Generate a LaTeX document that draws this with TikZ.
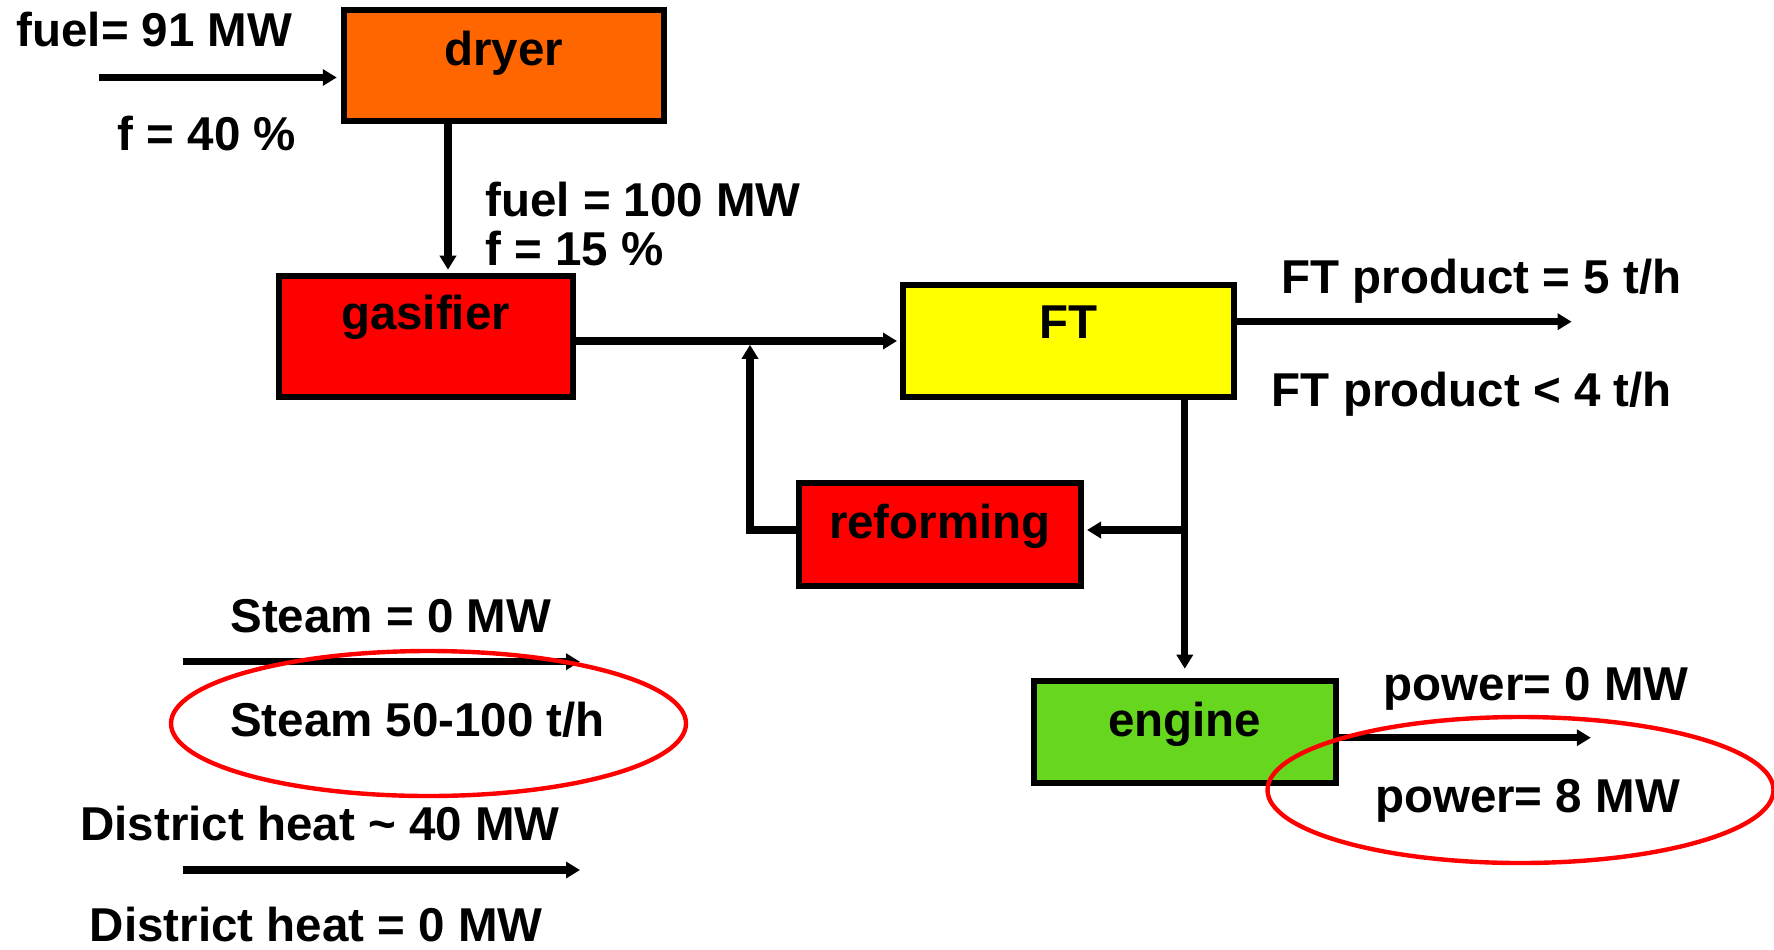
\documentclass[tikz,border=0pt]{standalone}
\usepackage{fontspec}
\setmainfont{Liberation Sans}
\usetikzlibrary{arrows.meta}
\definecolor{dryerc}{RGB}{255,102,0}
\definecolor{hotc}{RGB}{255,0,0}
\definecolor{ftc}{RGB}{255,255,0}
\definecolor{enginec}{RGB}{102,214,30}
\begin{document}
\begin{tikzpicture}[x=0.5pt,y=-0.5pt,
  every node/.style={font=\fontsize{23.75pt}{28pt}\selectfont\bfseries, inner sep=0pt},
  box/.style={draw=black, line width=3pt, inner sep=0pt},
  arr/.style={line width=3.6pt, -{Triangle[length=7pt,width=8pt]}},
  ring/.style={draw=red, line width=2.2pt},
  lbl/.style={anchor=base}]
\useasboundingbox (0,0) rectangle (1774,949);
% boxes
\node[box, fill=dryerc, minimum width=160.15pt, minimum height=55.35pt, text height=0pt, text depth=0pt] (dryer) at (503.9,65.65) {dryer};
\node[box, fill=hotc, minimum width=147.1pt, minimum height=60.65pt, text height=0pt, text depth=6.4pt] (gasifier) at (425.6,336.35) {gasifier};
\node[box, fill=ftc, minimum width=165.25pt, minimum height=55.85pt, text height=0pt, text depth=2.2pt] (FT) at (1068.25,341.15) {FT};
\node[box, fill=hotc, minimum width=141.15pt, minimum height=51.5pt, text height=3.5pt, text depth=0pt] (reforming) at (939.85,534.5) {reforming};
\node[box, fill=enginec, minimum width=150.8pt, minimum height=50.85pt, text height=4.5pt, text depth=0pt] (engine) at (1184.8,732.15) {engine};
% helper coordinates
\coordinate (fuelsrc) at (99,77.5);
\coordinate (dgx) at (448,0);
\coordinate (gfy) at (0,341);
\coordinate (ftout) at (1571.6,321.7);
\coordinate (branch) at (1184.8,530);
\coordinate (fbx) at (750,0);
\coordinate (pw) at (1590.8,737.7);
\coordinate (st1) at (182.5,661.7);
\coordinate (st2) at (580,661.7);
\coordinate (dh1) at (182.5,870);
\coordinate (dh2) at (580,870);
% connectors
\draw[arr, shorten >=2pt] (fuelsrc) -- (fuelsrc -| dryer.west);
\draw[arr, shorten >=1.5pt] (dryer.south -| dgx) -- (gasifier.north -| dgx);
\draw[arr, shorten >=1.5pt] (gasifier.east |- gfy) -- (FT.west |- gfy);
\draw[arr] (ftout -| FT.east) -- (ftout);
\draw[arr, shorten >=4.8pt] (FT.south -| engine.north) -- (engine.north);
\draw[arr, shorten >=1.5pt] (branch) -- (branch -| reforming.east);
\draw[arr, shorten >=1.9pt] (reforming.west |- branch) -| (fbx |- gfy);
\draw[arr] (pw -| engine.east) -- (pw);
\draw[arr] (st1) -- (st2);
\draw[arr] (dh1) -- (dh2);
% labels
\node[lbl] (lfuel91) at (154.5,46.5) {fuel= 91 MW};
\node[lbl] (lf40) at (207,150.7) {f = 40 \%};
\node[anchor=base west] (lfuel100) at (485,216.7) {fuel = 100 MW};
\node[anchor=base west] (lf15) at (485,265) {f = 15 \%};
\node[lbl] (lft5) at (1481.4,293) {FT product = 5 t/h};
\node[lbl] (lft4) at (1471.8,406) {FT product < 4 t/h};
\node[lbl] (lst0) at (390.8,632.7) {Steam = 0 MW};
\node[lbl] (lst50) at (417.6,736.7) {Steam 50-100 t/h};
\node[lbl] (ldh40) at (320,840.7) {District heat \textasciitilde{} 40 MW};
\node[lbl] (ldh0) at (316.3,941) {District heat = 0 MW};
\node[lbl] (lpw0) at (1536.2,700) {power= 0 MW};
\node[lbl] (lpw8) at (1527.5,812.7) {power= 8 MW};
% highlight rings
\draw[ring] (428.5,723.5) ellipse [x radius=128.75pt, y radius=36.25pt];
\draw[ring] (1520.5,790) ellipse [x radius=126.5pt, y radius=36.5pt];
\end{tikzpicture}
\end{document}
